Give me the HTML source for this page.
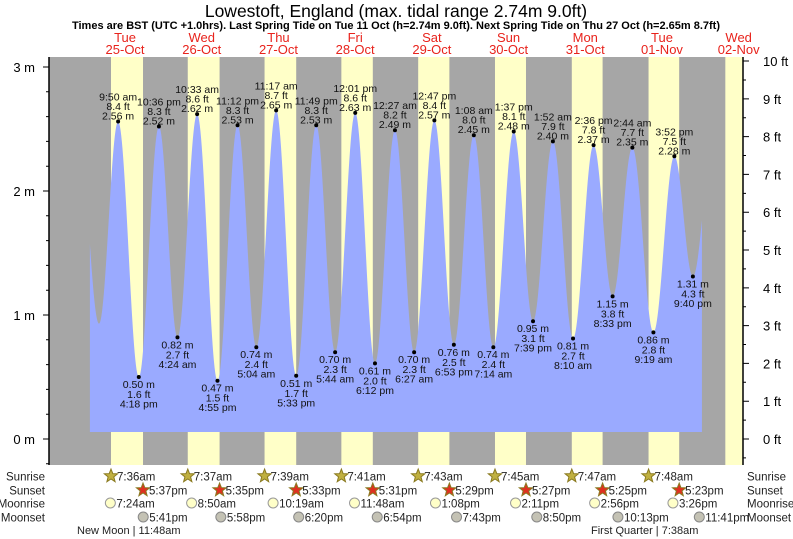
<!DOCTYPE html>
<html><head><meta charset="utf-8"><style>
body{margin:0;background:#fff}
svg{display:block;font-family:"Liberation Sans",sans-serif}
</style></head><body>
<svg id="c" width="793" height="539" viewBox="0 0 793 539">
<text x="396" y="17" font-size="17.5" text-anchor="middle" fill="#000">Lowestoft, England (max. tidal range 2.74m 9.0ft)</text>
<text x="396" y="29" font-size="11" font-weight="bold" text-anchor="middle" fill="#000">Times are BST (UTC +1.0hrs). Last Spring Tide on Tue 11 Oct (h=2.74m 9.0ft). Next Spring Tide on Thu 27 Oct (h=2.65m 8.7ft)</text>
<g id="bg"></g><g id="fill"></g><g id="lbl"></g><g id="axes"></g><g id="astro"></g>
</svg>
<script>
const tideHours=[-2.6,3.85,9.83,16.3,22.6,28.4,34.55,40.92,47.2,53.07,59.28,65.55,71.82,77.73,84.02,90.2,96.45,102.45,108.78,114.88,121.13,127.23,133.62,139.65,145.87,152.17,158.6,164.55,170.73,177.32,183.87,189.67,196.0];
const tideMeters=[2.5,0.93,2.56,0.50,2.52,0.82,2.62,0.47,2.53,0.74,2.65,0.51,2.53,0.70,2.63,0.61,2.49,0.70,2.57,0.76,2.45,0.74,2.48,0.95,2.40,0.81,2.37,1.15,2.35,0.86,2.28,1.31,2.4];
const tideFeet=["","","8.4","1.6","8.3","2.7","8.6","1.5","8.3","2.4","8.7","1.7","8.3","2.3","8.6","2.0","8.2","2.3","8.4","2.5","8.0","2.4","8.1","3.1","7.9","2.7","7.8","3.8","7.7","2.8","7.5","4.3",""];
const tideLabels=["","","9:50 am","4:18 pm","10:36 pm","4:24 am","10:33 am","4:55 pm","11:12 pm","5:04 am","11:17 am","5:33 pm","11:49 pm","5:44 am","12:01 pm","6:12 pm","12:27 am","6:27 am","12:47 pm","6:53 pm","1:08 am","7:14 am","1:37 pm","7:39 pm","1:52 am","8:10 am","2:36 pm","8:33 pm","2:44 am","9:19 am","3:52 pm","9:40 pm",""];
const dayNames=["Tue","Wed","Thu","Fri","Sat","Sun","Mon","Tue","Wed"];
const dayDates=["25-Oct","26-Oct","27-Oct","28-Oct","29-Oct","30-Oct","31-Oct","01-Nov","02-Nov"];
const sunrise=[7.60,7.62,7.65,7.68,7.72,7.75,7.78,7.80,7.82];
const sunset=[17.62,17.58,17.55,17.52,17.48,17.45,17.42,17.38,17.35];
const sunriseText=["7:36am","7:37am","7:39am","7:41am","7:43am","7:45am","7:47am","7:48am"];
const sunsetText=["5:37pm","5:35pm","5:33pm","5:31pm","5:29pm","5:27pm","5:25pm","5:23pm"];
const moonrise=[7.40,8.83,10.32,11.80,13.13,14.18,14.93,15.43];
const moonriseText=["7:24am","8:50am","10:19am","11:48am","1:08pm","2:11pm","2:56pm","3:26pm"];
const moonset=[17.68,17.97,18.33,18.90,19.72,20.83,22.22,23.68];
const moonsetText=["5:41pm","5:58pm","6:20pm","6:54pm","7:43pm","8:50pm","10:13pm","11:41pm"];
const mTicks=[0,1,2,3];
const ftTicks=[0,1,2,3,4,5,6,7,8,9,10];

const NS="http://www.w3.org/2000/svg";
const X0=86.7,PXH=3.196,Y0=439,PXM=124,L=49,R=743,T=57,B=465;
const x=t=>X0+t*PXH, y=h=>Y0-h*PXM;
function el(tag,attrs,parent,txt){const e=document.createElementNS(NS,tag);for(const k in attrs)e.setAttribute(k,attrs[k]);if(txt!=null)e.textContent=txt;parent.appendChild(e);return e;}
const bg=document.getElementById('bg'),fill=document.getElementById('fill'),lbl=document.getElementById('lbl'),axes=document.getElementById('axes'),astro=document.getElementById('astro');

const night=el('rect',{x:L,y:T,width:R-L,height:B-T,fill:'#a6a6a6'},bg);


for(let d=0;d<sunrise.length;d++){
  const a=Math.max(L,x(24*d+sunrise[d])),b=Math.min(R,x(24*d+sunset[d]));
  if(b<=a)continue;
  const r=el('rect',{x:a,y:T,width:b-a,height:B-T,fill:'#ffffc8'},bg);
  
  
  const cx=x(24*d+12);
  const t1=el('text',{x:cx,y:42,'font-size':13,'text-anchor':'middle',fill:'#e8231c'},bg,dayNames[d]);
  
  
  const t2=el('text',{x:cx,y:54,'font-size':13,'text-anchor':'middle',fill:'#e8231c'},bg,dayDates[d]);
  
  
}
const tStart=1.0,tEnd=192.5;
function hAt(t){for(let i=0;i<tideHours.length-1;i++){if(t>=tideHours[i]&&t<=tideHours[i+1]){const f=(t-tideHours[i])/(tideHours[i+1]-tideHours[i]);return tideMeters[i]+(tideMeters[i+1]-tideMeters[i])*(1-Math.cos(Math.PI*f))/2;}}return tideMeters[0];}
let d=`M${x(tStart)},432`;
for(let t=tStart;t<=tEnd;t+=0.2)d+=`L${x(t).toFixed(2)},${y(hAt(t)).toFixed(2)}`;
d+=`L${x(tEnd)},${y(hAt(tEnd))}L${x(tEnd)},432Z`;
const p=el('path',{d:d,fill:'#9aaaff'},fill);


for(let i=0;i<tideHours.length;i++){
  if(!tideLabels[i])continue;
  const px=x(tideHours[i]),py=y(tideMeters[i]);
  const c=el('circle',{cx:px,cy:py,r:2,fill:'#000'},lbl);
  
  
  const high=tideMeters[i]>(tideMeters[i-1]||0);
  const lines=high?[tideLabels[i],tideFeet[i]+' ft',tideMeters[i].toFixed(2)+' m']:[tideMeters[i].toFixed(2)+' m',tideFeet[i]+' ft',tideLabels[i]];
  const offs=high?[-21,-11.5,-2]:[11,21,30.5];
  for(let k=0;k<3;k++){
    const tx=el('text',{x:px,y:py+offs[k],'font-size':10.5,'text-anchor':'middle',fill:'#111'},lbl,lines[k]);
    
    
  }
}
const ax=el('path',{d:`M${L},${T}V${B}M${R},${T}V${B}`,stroke:'#000','stroke-width':1.5,fill:'none'},axes);


let tk='';
for(let v=-0.2;v<=3.0001;v+=0.2){const yy=y(v);tk+=`M${L},${yy}h${Math.abs(v-Math.round(v))<0.01?-6:-3}`;}
for(let f=-0.5;f<=10.0001;f+=0.5){const yy=Y0-f*0.3048*PXM;tk+=`M${R},${yy}h${Math.abs(f-Math.round(f))<0.01?6:3}`;}
const tp=el('path',{d:tk,stroke:'#000','stroke-width':1},axes);


for(const m of mTicks){const t=el('text',{x:35,y:y(m)+5,'font-size':13,'text-anchor':'end'},axes,m+' m');

}
for(const f of ftTicks){const t=el('text',{x:763,y:Y0-f*0.3048*PXM+5,'font-size':13},axes,f+' ft');

}
const rows=[['Sunrise',476],['Sunset',490],['Moonrise',503],['Moonset',517]];
for(const [n,yy] of rows){
  const a=el('text',{x:45,y:yy+4.5,'font-size':11.5,'text-anchor':'end',fill:'#222'},astro,n);
  
  
  const b=el('text',{x:747,y:yy+4.5,'font-size':11.5,fill:'#222'},astro,n);
  
  
}
function star(cx,cy,col){let s='';for(let k=0;k<10;k++){const r=k%2?3:7,a=-Math.PI/2+k*Math.PI/5;s+=(cx+r*Math.cos(a)).toFixed(1)+','+(cy+r*Math.sin(a)).toFixed(1)+' ';}return el('polygon',{points:s,fill:col,stroke:'#8a7a20','stroke-width':1},astro);}
for(let d=0;d<8;d++){
  let sx=x(24*d+sunrise[d]);
  const s1=star(sx,476,'#c0b040');
  const a=el('text',{x:sx+6,y:480.5,'font-size':11.5,fill:'#222'},astro,sunriseText[d]);
  sx=x(24*d+sunset[d]);
  const s2=star(sx,490,'#e03020');
  const b=el('text',{x:sx+6,y:494.5,'font-size':11.5,fill:'#222'},astro,sunsetText[d]);
  sx=x(24*d+moonrise[d]);
  const c1=el('circle',{cx:sx,cy:503,r:5,fill:'#ffffc8',stroke:'#999'},astro);
  const c=el('text',{x:sx+6,y:507.5,'font-size':11.5,fill:'#222'},astro,moonriseText[d]);
  sx=x(24*d+moonset[d]);
  const c2=el('circle',{cx:sx,cy:517,r:5,fill:'#c4c2b4',stroke:'#888'},astro);
  const e=el('text',{x:sx+6,y:521.5,'font-size':11.5,fill:'#222'},astro,moonsetText[d]);
}
const m1=el('text',{x:77,y:534,'font-size':11,fill:'#222'},astro,'New Moon | 11:48am');


const m2=el('text',{x:591,y:534,'font-size':11,fill:'#222'},astro,'First Quarter | 7:38am');


</script>
</body></html>
